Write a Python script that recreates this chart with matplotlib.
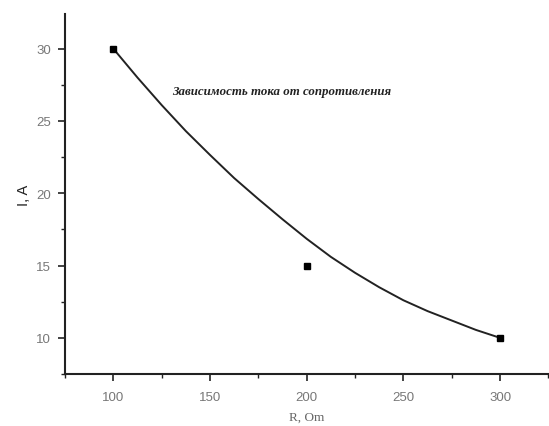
import matplotlib
matplotlib.use("Agg")
import matplotlib.pyplot as plt
from matplotlib.ticker import MultipleLocator

# measured data points
R_points = [100, 200, 300]
I_points = [30, 15, 10]

# fitted curve
R_curve = [100, 112.5, 125, 137.5, 150, 162.5, 175, 187.5, 200, 212.5, 225, 237.5, 250, 262.5, 275, 287.5, 300]
I_curve = [30, 28.0, 26.1, 24.3, 22.65, 21.05, 19.6, 18.2, 16.85, 15.6, 14.5, 13.5, 12.6, 11.85, 11.2, 10.55, 10]

title_text = "Зависимость тока от сопротивления"
x_label = "R, Om"
y_label = "I, A"

fig = plt.figure(figsize=(5.49, 4.27), dpi=100)
ax = fig.add_axes([65/549, 1-375/427, 1-65/549, (375-15)/427])

ax.plot(R_curve, I_curve, color="#222222", lw=1.4)
ax.plot(R_points, I_points, ls="none", marker="s", ms=4.5, color="black")

ax.set_xlim(75, 325.3)
ax.set_ylim(7.5, 32.4)
ax.xaxis.set_major_locator(MultipleLocator(50))
ax.xaxis.set_minor_locator(MultipleLocator(25))
ax.yaxis.set_major_locator(MultipleLocator(5))
ax.yaxis.set_minor_locator(MultipleLocator(2.5))

for s in ["top", "right"]:
    ax.spines[s].set_visible(False)
for s in ["left", "bottom"]:
    ax.spines[s].set_linewidth(1.5)
    ax.spines[s].set_color("#222222")

ax.tick_params(which="major", direction="out", length=5, width=1.2, color="#222222",
               labelsize=9.5, labelcolor="#777777", pad=5)
ax.tick_params(which="minor", direction="out", length=3, width=1.0, color="#222222")
ax.tick_params(axis="x", which="major", pad=7)
for lab in ax.get_xticklabels() + ax.get_yticklabels():
    lab.set_family("Liberation Sans")

ax.set_xlabel(x_label, family="Liberation Serif", fontsize=9.5, color="#666666", labelpad=6)
ax.set_ylabel(y_label, family="Liberation Sans", fontsize=10.5, color="#222222", labelpad=4)

ax.text(172, 427 - 92, title_text, transform=None, family="Liberation Serif",
        fontweight="bold", fontstyle="italic", fontsize=9.3, color="#222222",
        va="center", ha="left")

fig.savefig("out.png", dpi=100)
